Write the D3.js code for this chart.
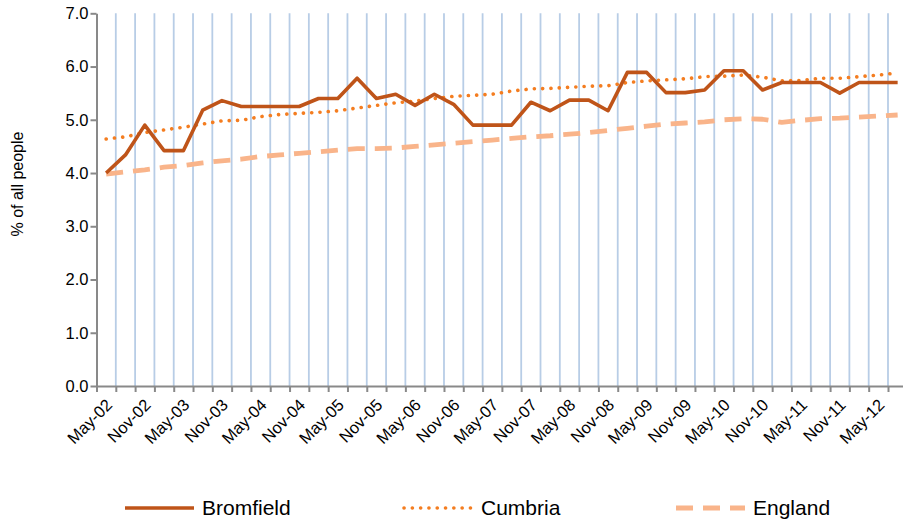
<!DOCTYPE html>
<html>
<head>
<meta charset="utf-8">
<script src="https://cdn.jsdelivr.net/npm/d3@7"></script>
<style>
body { margin: 0; background: #fff; }
svg { display: block; font-family: "Liberation Sans", Arial, sans-serif; }
</style>
</head>
<body>
<svg id="chart"></svg>
<script>
var quarters = ["May-02","Aug-02","Nov-02","Feb-03","May-03","Aug-03","Nov-03","Feb-04",
	"May-04","Aug-04","Nov-04","Feb-05","May-05","Aug-05","Nov-05","Feb-06",
	"May-06","Aug-06","Nov-06","Feb-07","May-07","Aug-07","Nov-07","Feb-08",
	"May-08","Aug-08","Nov-08","Feb-09","May-09","Aug-09","Nov-09","Feb-10",
	"May-10","Aug-10","Nov-10","Feb-11","May-11","Aug-11","Nov-11","Feb-12",
	"May-12","Aug-12"];
var tickLabels = ["May-02","Nov-02","May-03","Nov-03","May-04","Nov-04","May-05","Nov-05",
	"May-06","Nov-06","May-07","Nov-07","May-08","Nov-08","May-09","Nov-09",
	"May-10","Nov-10","May-11","Nov-11","May-12"];
var yTicks = [0, 1, 2, 3, 4, 5, 6, 7];

var bromfield = [4.00, 4.34, 4.90, 4.42, 4.42, 5.18, 5.36, 5.25, 5.25, 5.25, 5.25, 5.40, 5.40, 5.78,
	5.40, 5.48, 5.27, 5.48, 5.29, 4.90, 4.90, 4.90, 5.33, 5.17, 5.37, 5.37, 5.17, 5.89,
	5.89, 5.51, 5.51, 5.56, 5.92, 5.92, 5.56, 5.70, 5.70, 5.70, 5.50, 5.70, 5.70, 5.70];
var cumbria = [4.64, 4.68, 4.76, 4.81, 4.86, 4.92, 4.98, 4.99, 5.06, 5.10, 5.12, 5.14, 5.17, 5.22,
	5.27, 5.32, 5.35, 5.40, 5.44, 5.46, 5.48, 5.54, 5.58, 5.59, 5.61, 5.63, 5.64, 5.70,
	5.73, 5.75, 5.77, 5.81, 5.82, 5.84, 5.80, 5.73, 5.74, 5.78, 5.78, 5.81, 5.84, 5.88];
var england = [3.98, 4.02, 4.06, 4.11, 4.14, 4.19, 4.23, 4.26, 4.31, 4.34, 4.37, 4.40, 4.43, 4.46,
	4.46, 4.47, 4.50, 4.53, 4.56, 4.59, 4.62, 4.65, 4.68, 4.70, 4.73, 4.76, 4.80, 4.84,
	4.88, 4.92, 4.94, 4.96, 5.00, 5.02, 5.01, 4.95, 4.99, 5.02, 5.03, 5.05, 5.07, 5.09];

var series = [
	{ name: "Bromfield", values: bromfield, color: "#BF5419", width: 3.6, dash: null, cap: "butt" },
	{ name: "Cumbria", values: cumbria, color: "#F47D20", width: 3.6, dash: "0.1,8.2", cap: "round" },
	{ name: "England", values: england, color: "#F9B48A", width: 4.8, dash: "17,10", cap: "butt" }
];

var width = 903, height = 524;
var margin = { left: 96.5, right: 907.3, top: 13.3, bottom: 386 };

var svg = d3.select("#chart").attr("width", width).attr("height", height);

var x = d3.scaleBand().domain(quarters).range([margin.left, margin.right]).paddingInner(0).paddingOuter(0);
var xEdge = d3.scaleLinear().domain([0, quarters.length]).range([margin.left, margin.right]);
var y = d3.scaleLinear().domain([0, 7]).range([margin.bottom, margin.top]);

// vertical gridlines between categories
svg.append("g")
	.selectAll("line")
	.data(d3.range(1, quarters.length + 1))
	.enter()
	.append("line")
	.attr("x1", function(d) { return xEdge(d); })
	.attr("x2", function(d) { return xEdge(d); })
	.attr("y1", margin.top)
	.attr("y2", margin.bottom)
	.attr("stroke", "#B8CDE6")
	.attr("stroke-width", 1.8);

// x axis ticks
var xAxis = svg.append("g")
	.attr("transform", "translate(0," + margin.bottom + ")")
	.call(d3.axisBottom(xEdge).tickValues(d3.range(0, quarters.length + 1)).tickFormat("").tickSize(6).tickSizeOuter(0));
xAxis.select(".domain").attr("stroke", "#898989").attr("stroke-width", 2);
xAxis.selectAll(".tick line").attr("stroke", "#898989").attr("stroke-width", 2);

// x labels
svg.append("g")
	.selectAll("text")
	.data(tickLabels)
	.enter()
	.append("text")
	.attr("transform", function(d) {
		return "translate(" + (x(d) + x.bandwidth() / 2 + 3) + "," + (margin.bottom + 16) + ") rotate(-45)";
	})
	.attr("text-anchor", "end")
	.attr("dy", "0.35em")
	.attr("font-size", 16.5)
	.attr("fill", "#000")
	.text(function(d) { return d; });

// y axis
var yAxis = svg.append("g")
	.attr("transform", "translate(" + margin.left + ",0)")
	.call(d3.axisLeft(y).tickValues(yTicks).tickFormat(d3.format(".1f")).tickSize(6).tickSizeOuter(0));
yAxis.select(".domain").attr("stroke", "#898989").attr("stroke-width", 2);
yAxis.selectAll(".tick line").attr("stroke", "#898989").attr("stroke-width", 2);
yAxis.selectAll(".tick text")
	.attr("x", -8)
	.attr("font-size", 16.5)
	.attr("font-family", "Liberation Sans, Arial, sans-serif")
	.attr("fill", "#000");

svg.append("text")
	.attr("transform", "translate(23,184) rotate(-90)")
	.attr("text-anchor", "middle")
	.attr("font-size", 16)
	.attr("fill", "#000")
	.text("% of all people");

// series lines
var line = d3.line()
	.x(function(d, i) { return x(quarters[i]) + x.bandwidth() / 2; })
	.y(function(d) { return y(d); });

series.slice().reverse().forEach(function(s) {
	svg.append("path")
		.datum(s.values)
		.attr("fill", "none")
		.attr("stroke", s.color)
		.attr("stroke-width", s.width)
		.attr("stroke-dasharray", s.dash)
		.attr("stroke-linecap", s.cap)
		.attr("stroke-linejoin", "round")
		.attr("d", line);
});

// legend
var legendX = [125, 404, 676];
var legend = svg.append("g")
	.selectAll("g")
	.data(series)
	.enter()
	.append("g")
	.attr("transform", function(d, i) { return "translate(" + legendX[i] + ",508)"; });
legend.append("line")
	.attr("x1", 0)
	.attr("x2", 69)
	.attr("stroke", function(d) { return d.color; })
	.attr("stroke-width", function(d) { return d.width; })
	.attr("stroke-dasharray", function(d) { return d.dash; })
	.attr("stroke-linecap", function(d) { return d.cap; });
legend.append("text")
	.attr("x", 77)
	.attr("dy", "0.35em")
	.attr("font-size", 21)
	.attr("fill", "#000")
	.text(function(d) { return d.name; });
</script>
</body>
</html>
